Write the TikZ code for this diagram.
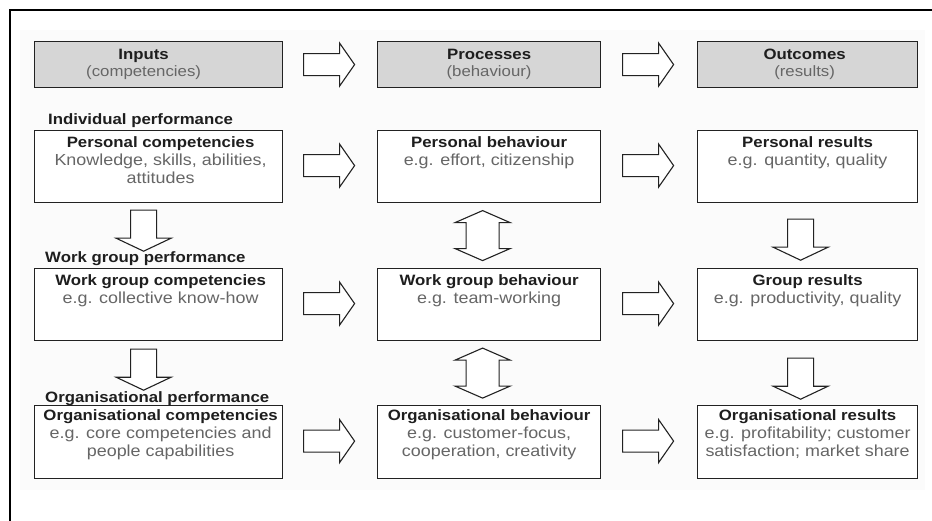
\documentclass[tikz,border=0pt]{standalone}
\usepackage{fontspec}
\setmainfont{Liberation Sans}[FakeStretch=1.12]
\usetikzlibrary{calc}
\definecolor{subgray}{HTML}{666666}
\definecolor{titlecol}{HTML}{1E1E1E}
\definecolor{hdrfill}{HTML}{D6D6D6}
\definecolor{linecol}{HTML}{222222}
\definecolor{bgcol}{HTML}{FBFBFB}
\begin{document}
\begin{tikzpicture}[x=1pt,y=-1pt,
  box/.style={draw=linecol, line width=1.2pt, fill=white, anchor=north west, inner sep=0pt, minimum height=72pt},
  hdr/.style={box, fill=hdrfill, minimum height=46pt},
  boxtext/.style={anchor=north, inner sep=0pt, align=center, text=subgray, font=\fontsize{16}{18}\selectfont},
  hdrtext/.style={anchor=center, inner sep=0pt, align=center, text=subgray, font=\fontsize{15}{17}\selectfont},
  lbl/.style={anchor=base west, inner sep=0pt, text=titlecol, font=\fontsize{15}{17}\selectfont\bfseries},
  blk/.style={draw=linecol, line width=1.1pt, fill=white, line join=miter}
]
\useasboundingbox (0,0) rectangle (932,521);
\fill[white] (0,0) rectangle (932,521);
\fill[bgcol] (20,30) rectangle (925,490);
\draw[black, line width=2pt] (9.5,521) -- (9.5,10) -- (932,10);

% header boxes
\node[hdr, minimum width=248pt] (hi) at (34,41) {};
\node[hdr, minimum width=223pt] (hp) at (377,41) {};
\node[hdr, minimum width=220pt] (ho) at (697,41) {};
\node[hdrtext] (hit) at ($(hi.center)+(-15,0)$) {{\color{titlecol}\bfseries\fontsize{15}{17}\selectfont Inputs}\\(competencies)};
\node[hdrtext] (hpt) at ($(hp.center)+(0,0)$) {{\color{titlecol}\bfseries\fontsize{15}{17}\selectfont Processes}\\(behaviour)};
\node[hdrtext] (hot) at ($(ho.center)+(-3,0)$) {{\color{titlecol}\bfseries\fontsize{15}{17}\selectfont Outcomes}\\(results)};

% row labels
\node[lbl] (l1) at (48,125) {Individual performance};
\node[lbl] (l2) at (45,263) {Work group performance};
\node[lbl] (l3) at (45,402) {Organisational performance};

% row 1
\node[box, minimum width=248pt] (pc) at (34,130) {};
\node[box, minimum width=223pt] (pb) at (377,130) {};
\node[box, minimum width=220pt] (pr) at (697,130) {};
% row 2
\node[box, minimum width=248pt] (wc) at (34,268) {};
\node[box, minimum width=223pt] (wb) at (377,268) {};
\node[box, minimum width=220pt] (gr) at (697,268) {};
% row 3
\node[box, minimum width=248pt, minimum height=73pt] (oc) at (34,405) {};
\node[box, minimum width=223pt, minimum height=73pt] (ob) at (377,405) {};
\node[box, minimum width=220pt, minimum height=73pt] (orr) at (697,405) {};

\newcommand{\bt}[1]{{\color{titlecol}\bfseries\fontsize{15}{18}\selectfont #1}}
\node[boxtext] (pct) at ($(pc.north)+(2,6)$) {\bt{Personal competencies}\\Knowledge, skills, abilities,\\attitudes};
\node[boxtext] (pbt) at ($(pb.north)+(0,6)$) {\bt{Personal behaviour}\\e.g. effort, citizenship};
\node[boxtext] (prt) at ($(pr.north)+(0,6)$) {\bt{Personal results}\\e.g. quantity, quality};
\node[boxtext] (wct) at ($(wc.north)+(2,6)$) {\bt{Work group competencies}\\e.g. collective know-how};
\node[boxtext] (wbt) at ($(wb.north)+(0,6)$) {\bt{Work group behaviour}\\e.g. team-working};
\node[boxtext] (grt) at ($(gr.north)+(0,6)$) {\bt{Group results}\\e.g. productivity, quality};
\node[boxtext] (oct) at ($(oc.north)+(2,4)$) {\bt{Organisational competencies}\\e.g. core competencies and\\people capabilities};
\node[boxtext] (obt) at ($(ob.north)+(0,4)$) {\bt{Organisational behaviour}\\e.g. customer-focus,\\cooperation, creativity};
\node[boxtext] (ort) at ($(orr.north)+(0,4)$) {\bt{Organisational results}\\e.g. profitability; customer\\satisfaction; market share};

% block arrow shapes
\newcommand{\rarr}[1]{\draw[blk, shift={(#1)}] (-25.5,-11) -- (10.5,-11) -- (10.5,-21.5) -- (25.5,0) -- (10.5,21.5) -- (10.5,11) -- (-25.5,11) -- cycle;}
\newcommand{\darr}[1]{\draw[blk, shift={(#1)}] (-13,-20.5) -- (13,-20.5) -- (13,7.5) -- (27.5,7.5) -- (0,20.5) -- (-27.5,7.5) -- (-13,7.5) -- cycle;}
\newcommand{\udarr}[1]{\draw[blk, shift={(#1)}] (0,-25) -- (27.5,-13) -- (16.5,-13) -- (16.5,13) -- (27.5,13) -- (0,25) -- (-27.5,13) -- (-16.5,13) -- (-16.5,-13) -- (-27.5,-13) -- cycle;}

% horizontal arrows (between named boxes)
\coordinate (a0) at ($(hi.east)!0.5!(hp.west)+(-1,0)$);
\coordinate (b0) at ($(hp.east)!0.5!(ho.west)+(-1,0)$);
\coordinate (a1) at ($(pc.east)!0.5!(pb.west)+(-1,-1)$);
\coordinate (b1) at ($(pb.east)!0.5!(pr.west)+(-1,-1)$);
\coordinate (a2) at ($(wc.east)!0.5!(wb.west)+(-1,-1)$);
\coordinate (b2) at ($(wb.east)!0.5!(gr.west)+(-1,-1)$);
\coordinate (a3) at ($(oc.east)!0.5!(ob.west)+(-1,-1)$);
\coordinate (b3) at ($(ob.east)!0.5!(orr.west)+(-1,-1)$);
\foreach \c in {a0,b0,a1,b1,a2,b2,a3,b3} {\rarr{\c}}

% vertical arrows
\coordinate (d1) at ($(pc.south)+(-15,27.5)$);
\coordinate (d2) at ($(wc.south)+(-15,28.5)$);
\darr{d1}
\darr{d2}
\coordinate (e1) at ($(pr.south)+(-7,36.5)$);
\coordinate (e2) at ($(gr.south)+(-7,37.5)$);
\darr{e1}
\darr{e2}
\coordinate (u1) at ($(pb.south)!0.5!(wb.north)+(-6.5,0)$);
\coordinate (u2) at ($(wb.south)!0.5!(ob.north)+(-6.5,0)$);
\udarr{u1}
\udarr{u2}
\end{tikzpicture}
\end{document}
